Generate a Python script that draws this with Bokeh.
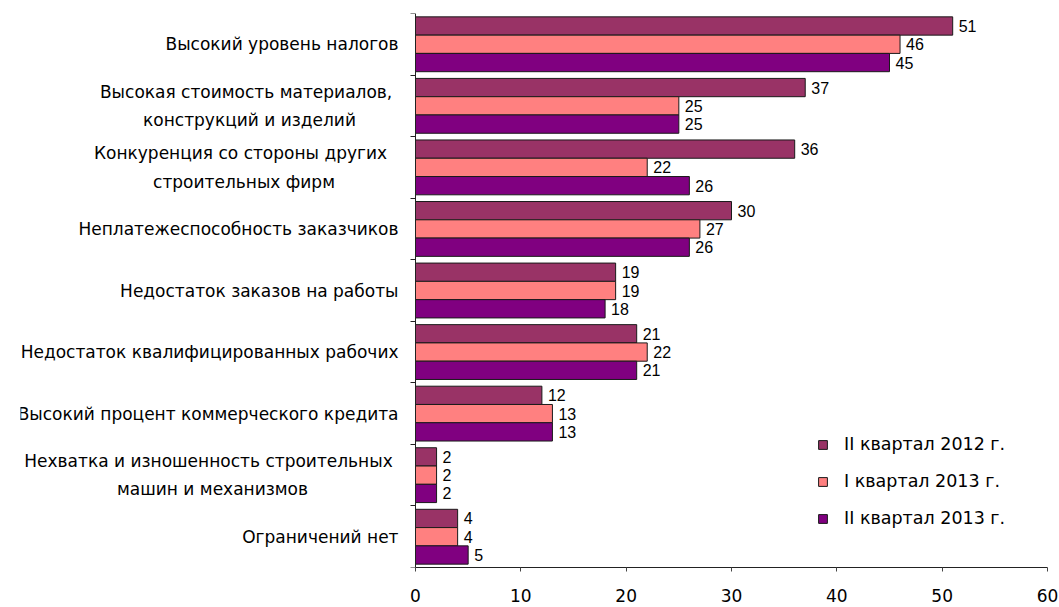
from bokeh.plotting import figure
from bokeh.models import Range1d, FixedTicker, Legend, LegendItem
from bokeh.core.properties import value
from bokeh.embed import file_html
from bokeh.resources import INLINE

# ---------------- data ----------------
category_lines = [
    ["Высокий уровень налогов"],
    ["Высокая стоимость материалов,", "конструкций и изделий"],
    ["Конкуренция со стороны других", "строительных фирм"],
    ["Неплатежеспособность заказчиков"],
    ["Недостаток заказов на работы"],
    ["Недостаток квалифицированных рабочих"],
    ["Высокий процент коммерческого кредита"],
    ["Нехватка и изношенность строительных", "машин и механизмов"],
    ["Ограничений нет"],
]
series_names = ["II квартал 2012 г.", "I квартал 2013 г.", "II квартал 2013 г."]
q2_2012 = [51, 37, 36, 30, 19, 21, 12, 2, 4]
q1_2013 = [46, 25, 22, 27, 19, 22, 13, 2, 4]
q2_2013 = [45, 25, 26, 26, 18, 21, 13, 2, 5]
x_ticks = [0, 10, 20, 30, 40, 50, 60]

# ---------------- styles ----------------
colors = ["#993366", "#FF8080", "#800080"]
series = [q2_2012, q1_2013, q2_2013]
n = len(category_lines)
bar_h = 0.297
offsets = [-bar_h, 0.0, bar_h]

W, H = 1059, 606
frame_left, axis_px, frame_right = 20, 415, 1047
px_per_unit = (frame_right - axis_px) / 60.0
x_start = -(axis_px - frame_left) / px_per_unit

p = figure(width=W, height=H, output_backend="svg", toolbar_location=None,
           x_range=Range1d(x_start, 60), y_range=Range1d(n, 0),
           min_border_left=frame_left, min_border_right=W - frame_right,
           min_border_top=13, min_border_bottom=39)
p.background_fill_color = "white"
p.border_fill_color = "white"
p.outline_line_color = None
p.xgrid.visible = False
p.ygrid.visible = False

renderers = []
for s, vals in enumerate(series):
    ys = [i + 0.5 + offsets[s] for i in range(n)]
    r = p.hbar(y=ys, left=0, right=vals, height=bar_h,
               fill_color=colors[s], line_color="#1a1a1a", line_width=1)
    renderers.append(r)
    p.text(x=vals, y=ys, text=[str(v) for v in vals], x_offset=6,
           text_align="left", text_baseline="middle",
           text_font=value("Liberation Sans"), text_font_size="16px",
           text_color="black")

# x axis
p.xaxis.ticker = FixedTicker(ticks=x_ticks, minor_ticks=[])
p.xaxis.bounds = (0, 60)
p.xaxis.major_tick_out = 4
p.xaxis.major_tick_in = 0
p.xaxis.minor_tick_out = 0
p.xaxis.minor_tick_in = 0
p.xaxis.axis_line_color = "#222222"
p.xaxis.major_tick_line_color = "#444444"
p.xaxis.major_label_text_font = "DejaVu Sans"
p.xaxis.major_label_text_font_size = "17px"
p.xaxis.major_label_text_color = "black"
p.xaxis.major_label_standoff = 17

# y axis at x = 0 with ticks on category boundaries
p.yaxis.fixed_location = 0
p.yaxis.ticker = FixedTicker(ticks=[], minor_ticks=list(range(n + 1)))
p.yaxis.major_tick_out = 0
p.yaxis.major_tick_in = 0
p.yaxis.minor_tick_out = 5
p.yaxis.minor_tick_in = 0
p.yaxis.minor_tick_line_color = "#222222"
p.yaxis.axis_line_color = "#222222"
p.yaxis.major_label_text_font_size = "0px"
p.yaxis.major_label_standoff = 0

# category labels (text inside the frame, left of the value axis)
line_centers = {1: [245.6, 249.0], 2: [240.0, 243.5], 7: [208.0, 212.0]}
dy = 0.23
lx, ly, lt, loff, lalign = [], [], [], [], []
for i, lines in enumerate(category_lines):
    if len(lines) == 1:
        lx.append(0); ly.append(i + 0.5); lt.append(lines[0])
        loff.append(-17); lalign.append("right")
    else:
        for k, line in enumerate(lines):
            lx.append(0); ly.append(i + 0.5 + (-dy if k == 0 else dy)); lt.append(line)
            loff.append(line_centers[i][k] - axis_px); lalign.append("center")
p.text(x=lx, y=ly, text=lt, x_offset=loff, text_align=lalign,
       text_baseline="middle", text_font=value("DejaVu Sans"),
       text_font_size="17px", text_color="black")

legend = Legend(items=[LegendItem(label=series_names[s], renderers=[renderers[s]])
                       for s in range(3)],
                location=(817 - frame_left, 39), padding=0, margin=0,
                border_line_color=None, background_fill_alpha=0,
                glyph_width=11, glyph_height=11, label_standoff=16,
                spacing=17, label_height=20,
                label_text_font="DejaVu Sans", label_text_font_size="17.5px",
                label_text_color="black")
p.add_layout(legend)

open("out.html", "w").write(file_html(p, INLINE))
